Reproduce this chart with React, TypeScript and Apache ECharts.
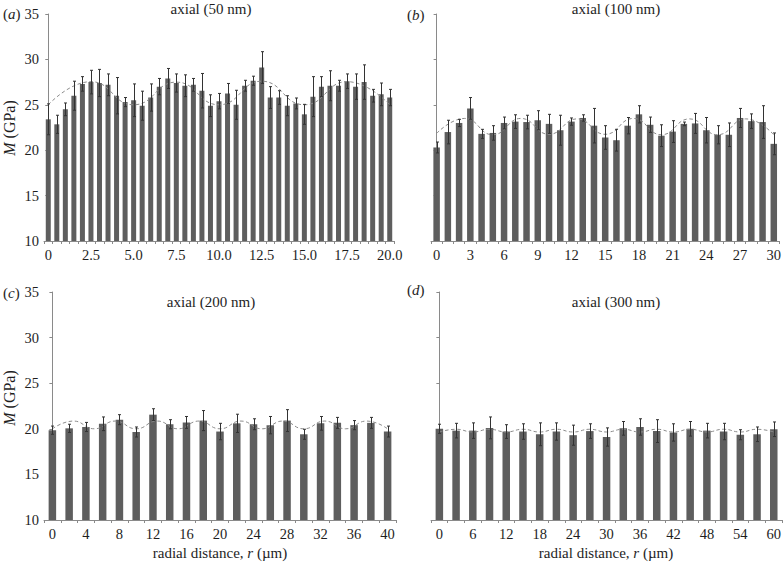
import React, { useEffect, useRef } from 'react';
import * as echarts from 'echarts';

const FONT = 'Liberation Serif';

// ---- Panel (a): axial (50 nm)
const catsA = ['0', '0.5', '1', '1.5', '2', '2.5', '3', '3.5', '4', '4.5', '5', '5.5', '6', '6.5', '7', '7.5', '8', '8.5', '9', '9.5', '10',
  '10.5', '11', '11.5', '12', '12.5', '13', '13.5', '14', '14.5', '15', '15.5', '16', '16.5', '17', '17.5', '18', '18.5', '19', '19.5', '20'];
const valsA = [23.4, 22.85, 24.5, 26.0, 27.3, 27.5, 27.4, 27.2, 26.0, 25.3, 25.5, 24.9, 25.8, 27.0, 27.9, 27.4, 27.1, 27.2, 26.55, 24.9, 25.4,
  26.25, 25.0, 27.1, 27.65, 29.1, 25.8, 25.8, 24.9, 25.15, 23.95, 25.9, 27.0, 27.1, 27.1, 27.6, 27.0, 27.5, 26.0, 26.15, 25.8];
const errA = [1.7, 1.0, 0.7, 1.6, 0.8, 1.3, 1.5, 1.2, 2.0, 0.5, 1.8, 1.6, 1.5, 0.9, 1.1, 1.0, 1.2, 0.7, 1.9, 1.2, 0.85,
  1.1, 1.6, 0.6, 0.5, 1.75, 1.2, 0.75, 1.1, 0.6, 1.1, 2.2, 1.1, 1.65, 0.6, 0.8, 1.4, 1.9, 0.7, 1.25, 0.9];
const fitXA = [0, 2.5, 5, 7.5, 10, 12.5, 15, 17.5, 20];
const fitYA = [25.0, 27.55, 25.0, 27.5, 25.0, 27.6, 25.0, 27.55, 25.0];

// ---- Panel (b): axial (100 nm)
const catsB = ['0', '1', '2', '3', '4', '5', '6', '7', '8', '9', '10', '11', '12', '13', '14', '15', '16', '17', '18', '19', '20',
  '21', '22', '23', '24', '25', '26', '27', '28', '29', '30'];
const valsB = [20.3, 22.0, 23.0, 24.6, 21.8, 21.9, 23.0, 23.15, 23.1, 23.3, 22.9, 22.2, 23.15, 23.55, 22.7, 21.4, 21.1, 22.7, 23.95, 22.8, 21.6,
  22.05, 22.9, 22.95, 22.2, 21.7, 21.7, 23.55, 23.2, 23.1, 20.7];
const errB = [0.6, 1.3, 0.4, 1.2, 0.5, 0.8, 0.65, 0.75, 0.75, 1.05, 1.05, 1.65, 0.4, 0.35, 1.9, 1.3, 1.2, 0.9, 0.95, 0.85, 1.2,
  1.2, 0.2, 1.1, 1.4, 1.0, 1.3, 1.05, 0.8, 1.8, 1.2];
const fitXB = [0, 2.5, 5, 7.5, 10, 12.5, 15, 17.5, 20, 22.5, 25, 27.5, 30];
const fitYB = [21.85, 23.5, 21.7, 23.5, 21.75, 23.45, 21.75, 23.5, 21.7, 23.45, 21.7, 23.45, 21.7];

// ---- Panel (c): axial (200 nm)
const catsC = ['0', '2', '4', '6', '8', '10', '12', '14', '16', '18', '20', '22', '24', '26', '28', '30', '32', '34', '36', '38', '40'];
const valsC = [19.85, 20.05, 20.2, 20.55, 21.0, 19.65, 21.55, 20.5, 20.7, 20.9, 19.7, 20.6, 20.5, 20.4, 20.9, 19.4, 20.6, 20.65, 20.4, 20.65, 19.7];
const errC = [0.45, 0.45, 0.5, 0.75, 0.55, 0.55, 0.65, 0.5, 0.65, 1.1, 0.9, 1.0, 0.6, 0.95, 1.2, 0.55, 0.75, 0.6, 0.5, 0.6, 0.6];
const fitXC = [0, 2.5, 5, 7.5, 10, 12.5, 15, 17.5, 20, 22.5, 25, 27.5, 30, 32.5, 35, 37.5, 40];
const fitYC = [20.0, 20.85, 20.0, 20.85, 20.0, 20.85, 20.0, 20.85, 20.0, 20.85, 20.0, 20.85, 20.0, 20.85, 20.0, 20.85, 20.0];

// ---- Panel (d): axial (300 nm)
const catsD = ['0', '3', '6', '9', '12', '15', '18', '21', '24', '27', '30', '33', '36', '39', '42', '45', '48', '51', '54', '57', '60'];
const valsD = [20.0, 19.8, 19.8, 20.1, 19.7, 19.7, 19.4, 19.7, 19.3, 19.75, 19.1, 20.05, 20.2, 19.75, 19.6, 20.0, 19.8, 19.7, 19.35, 19.4, 19.95];
const errD = [0.5, 0.8, 0.85, 1.2, 0.75, 0.85, 1.25, 0.95, 1.1, 0.8, 1.0, 0.75, 0.9, 1.25, 0.95, 0.8, 0.8, 0.9, 0.55, 0.8, 0.8];
const fitXD = [0, 3, 6, 9, 12, 15, 18, 21, 24, 27, 30, 33, 36, 39, 42, 45, 48, 51, 54, 57, 60];
const fitYD = [19.65, 19.95, 19.65, 19.95, 19.65, 19.95, 19.65, 19.95, 19.65, 19.95, 19.65, 19.95, 19.65, 19.95, 19.65, 19.95, 19.65, 19.95, 19.65, 19.95, 19.65];

const titles = ['axial (50 nm)', 'axial (100 nm)', 'axial (200 nm)', 'axial (300 nm)'];
const letters = ['a', 'b', 'c', 'd'];
const yMin = 10;
const yMax = 35;
const yStep = 5;

const BAR = '#5e5e5e';
const AXIS = '#8a8a8a';
const TXT = '#1e1e1e';
const ERR = '#333333';

const panels = [
  { cats: catsA, vals: valsA, errs: errA, fitX: fitXA, fitY: fitYA, step: 0.5, left: 44, top: 14, width: 350, height: 227, labelInterval: 4, yLabels: true, barWidth: 5,
    fmt: (v: string) => (Number(v) === 0 ? '0' : Number(v).toFixed(1)) },
  { cats: catsB, vals: valsB, errs: errB, fitX: fitXB, fitY: fitYB, step: 1, left: 431, top: 14, width: 351, height: 227, labelInterval: 2, yLabels: false, barWidth: 6.5,
    fmt: (v: string) => v },
  { cats: catsC, vals: valsC, errs: errC, fitX: fitXC, fitY: fitYC, step: 2, left: 44, top: 292, width: 352, height: 228, labelInterval: 1, yLabels: true, barWidth: 7.5,
    fmt: (v: string) => v },
  { cats: catsD, vals: valsD, errs: errD, fitX: fitXD, fitY: fitYD, step: 3, left: 431, top: 292, width: 352, height: 228, labelInterval: 1, yLabels: false, barWidth: 7.5,
    fmt: (v: string) => v },
];

function buildOption() {
  const grid: any[] = [];
  const xAxis: any[] = [];
  const yAxis: any[] = [];
  const series: any[] = [];

  panels.forEach((p, i) => {
    grid.push({ left: p.left, top: p.top, width: p.width, height: p.height });
    xAxis.push({
      type: 'category',
      gridIndex: i,
      data: p.cats,
      boundaryGap: true,
      axisLine: { show: true, lineStyle: { color: AXIS, width: 1 } },
      axisTick: { show: true, interval: 0, length: 3, inside: false, lineStyle: { color: AXIS } },
      axisLabel: {
        show: true, interval: p.labelInterval, margin: 6, color: TXT,
        fontFamily: FONT, fontSize: 14.5, formatter: p.fmt,
      },
      splitLine: { show: false },
    });
    const last = Number(p.cats[p.cats.length - 1]);
    xAxis.push({
      type: 'value',
      gridIndex: i,
      min: -p.step / 2,
      max: last + p.step / 2,
      show: false,
      splitLine: { show: false },
    });
    yAxis.push({
      type: 'value',
      gridIndex: i,
      min: yMin,
      max: yMax,
      interval: yStep,
      axisLine: { show: true, lineStyle: { color: AXIS, width: 1 } },
      axisTick: { show: true, length: 3, inside: false, lineStyle: { color: AXIS } },
      axisLabel: { show: p.yLabels, margin: 5, color: TXT, fontFamily: FONT, fontSize: 14.5 },
      splitLine: { show: false },
    });

    series.push({
      type: 'bar',
      xAxisIndex: i * 2,
      yAxisIndex: i,
      data: p.vals,
      barWidth: p.barWidth,
      itemStyle: { color: BAR },
      z: 2,
    });
    series.push({
      type: 'line',
      xAxisIndex: i * 2 + 1,
      yAxisIndex: i,
      data: p.fitX.map((x, j) => [x, p.fitY[j]]),
      smooth: 0.5,
      showSymbol: false,
      symbol: 'none',
      lineStyle: { color: '#8c8c8c', width: 1, type: [3.5, 2.5] },
      z: 3,
      silent: true,
    });
    series.push({
      type: 'custom',
      xAxisIndex: i * 2,
      yAxisIndex: i,
      data: p.vals.map((v, j) => [j, v, p.errs[j]]),
      encode: { x: 0, y: 1 },
      z: 4,
      renderItem: (params: any, api: any) => {
        const xi = api.value(0);
        const v = api.value(1);
        const e = api.value(2);
        const t = api.coord([xi, v + e]);
        const b = api.coord([xi, v - e]);
        const cx = Math.round(t[0]) + 0.5;
        const hw = 1.5;
        const st = { stroke: ERR, lineWidth: 1 };
        return {
          type: 'group',
          children: [
            { type: 'line', shape: { x1: cx, y1: t[1], x2: cx, y2: b[1] }, style: st },
            { type: 'line', shape: { x1: cx - hw, y1: t[1], x2: cx + hw, y2: t[1] }, style: st },
            { type: 'line', shape: { x1: cx - hw, y1: b[1], x2: cx + hw, y2: b[1] }, style: st },
          ],
        };
      },
    });
  });

  const titlePos = [[211, 9], [616, 9], [211, 302], [616, 302]];
  const letterPos = [[3, 14], [407, 15], [3, 293], [407, 290]];
  const graphic: any[] = [];
  titles.forEach((t, i) => {
    graphic.push({
      type: 'text', x: titlePos[i][0], y: titlePos[i][1], silent: true,
      style: { text: t, fontFamily: FONT, fontSize: 15, fill: TXT, align: 'center', verticalAlign: 'middle' },
    });
  });
  letters.forEach((l, i) => {
    graphic.push({
      type: 'text', x: letterPos[i][0], y: letterPos[i][1], silent: true,
      style: {
        text: '({i|' + l + '})', fontFamily: FONT, fontSize: 15, fill: TXT, align: 'left', verticalAlign: 'middle',
        rich: { i: { fontFamily: FONT, fontSize: 15, fontStyle: 'italic', fill: TXT } },
      },
    });
  });
  [[9, 128], [9, 398]].forEach((pos) => {
    graphic.push({
      type: 'text', x: pos[0], y: pos[1], rotation: Math.PI / 2, silent: true,
      style: {
        text: '{i|M} (GPa)', fontFamily: FONT, fontSize: 16, fill: TXT, align: 'center', verticalAlign: 'middle',
        rich: { i: { fontFamily: FONT, fontSize: 16, fontStyle: 'italic', fill: TXT } },
      },
    });
  });
  [[220, 553], [606, 553]].forEach((pos) => {
    graphic.push({
      type: 'text', x: pos[0], y: pos[1], silent: true,
      style: {
        text: 'radial distance, {i|r} (µm)', fontFamily: FONT, fontSize: 15, fill: TXT, align: 'center', verticalAlign: 'middle',
        rich: { i: { fontFamily: FONT, fontSize: 15, fontStyle: 'italic', fill: TXT } },
      },
    });
  });

  return {
    animation: false,
    backgroundColor: '#ffffff',
    textStyle: { fontFamily: FONT },
    grid,
    xAxis,
    yAxis,
    series,
    graphic,
  };
}

export default function App() {
  const ref = useRef<HTMLDivElement>(null);
  useEffect(() => {
    if (!ref.current) return;
    const chart = echarts.init(ref.current, undefined, { renderer: 'svg' });
    chart.setOption(buildOption() as any);
    return () => chart.dispose();
  }, []);
  return (
    <div
      ref={ref}
      style={{ position: 'fixed', left: 0, top: 0, width: 784, height: 562, background: '#fff' }}
    />
  );
}
